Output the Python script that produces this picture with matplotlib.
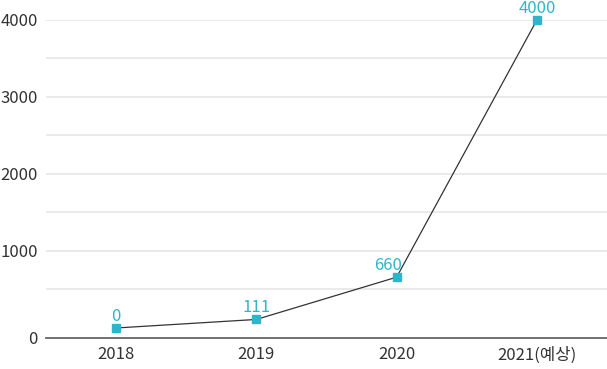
import numpy as np
from matplotlib import pyplot as plt

plt.rcParams['font.family'] = ['Noto Sans CJK KR', 'DejaVu Sans']

years = ['2018', '2019', '2020', '2021(예상)']
values = [0, 111, 660, 4000]
labels = ['0', '111', '660', '4000']
# small horizontal nudges of the value labels (points)
nudge = [0, 0, -6, 0]

line_clr = '#333333'
mark_clr = '#2cb6c9'
text_clr = '#333333'

fig = plt.figure(figsize=(6.07, 3.69), dpi=100)
ax = fig.add_axes([46/607, 1-338/369, 1-46/607, (338-20)/369])

x = np.arange(len(years))
ax.plot(x, values, color=line_clr, lw=0.9, zorder=3, clip_on=False)
ax.plot(x, values, ls='none', marker='s', ms=6, color=mark_clr, zorder=4, clip_on=False)
for i in range(len(x)):
    ax.annotate(labels[i], (x[i], values[i]), xytext=(nudge[i], 2.5), textcoords='offset points',
                ha='center', va='bottom', color=mark_clr, fontsize=12)

ybot = -130
ax.set_xlim(-0.5, 3.5)
ax.set_ylim(ybot, 4000)
ax.set_yticks([ybot, 1000, 2000, 3000, 4000])
ax.set_yticklabels(['0', '1000', '2000', '3000', '4000'])
for g in [500, 1000, 1500, 2000, 2500, 3000, 3500, 4000]:
    ax.axhline(g, color='#e8e8e8', lw=1.3, zorder=1)

ax.set_xticks(x)
ax.set_xticklabels(years)
ax.tick_params(axis='both', length=0, labelsize=12, labelcolor=text_clr)
ax.tick_params(axis='y', pad=6)
ax.tick_params(axis='x', pad=6)

for s in ['top', 'right', 'left']:
    ax.spines[s].set_visible(False)
ax.spines['bottom'].set_color('#666666')
ax.spines['bottom'].set_linewidth(1.3)

fig.savefig('out.png', dpi=100)
